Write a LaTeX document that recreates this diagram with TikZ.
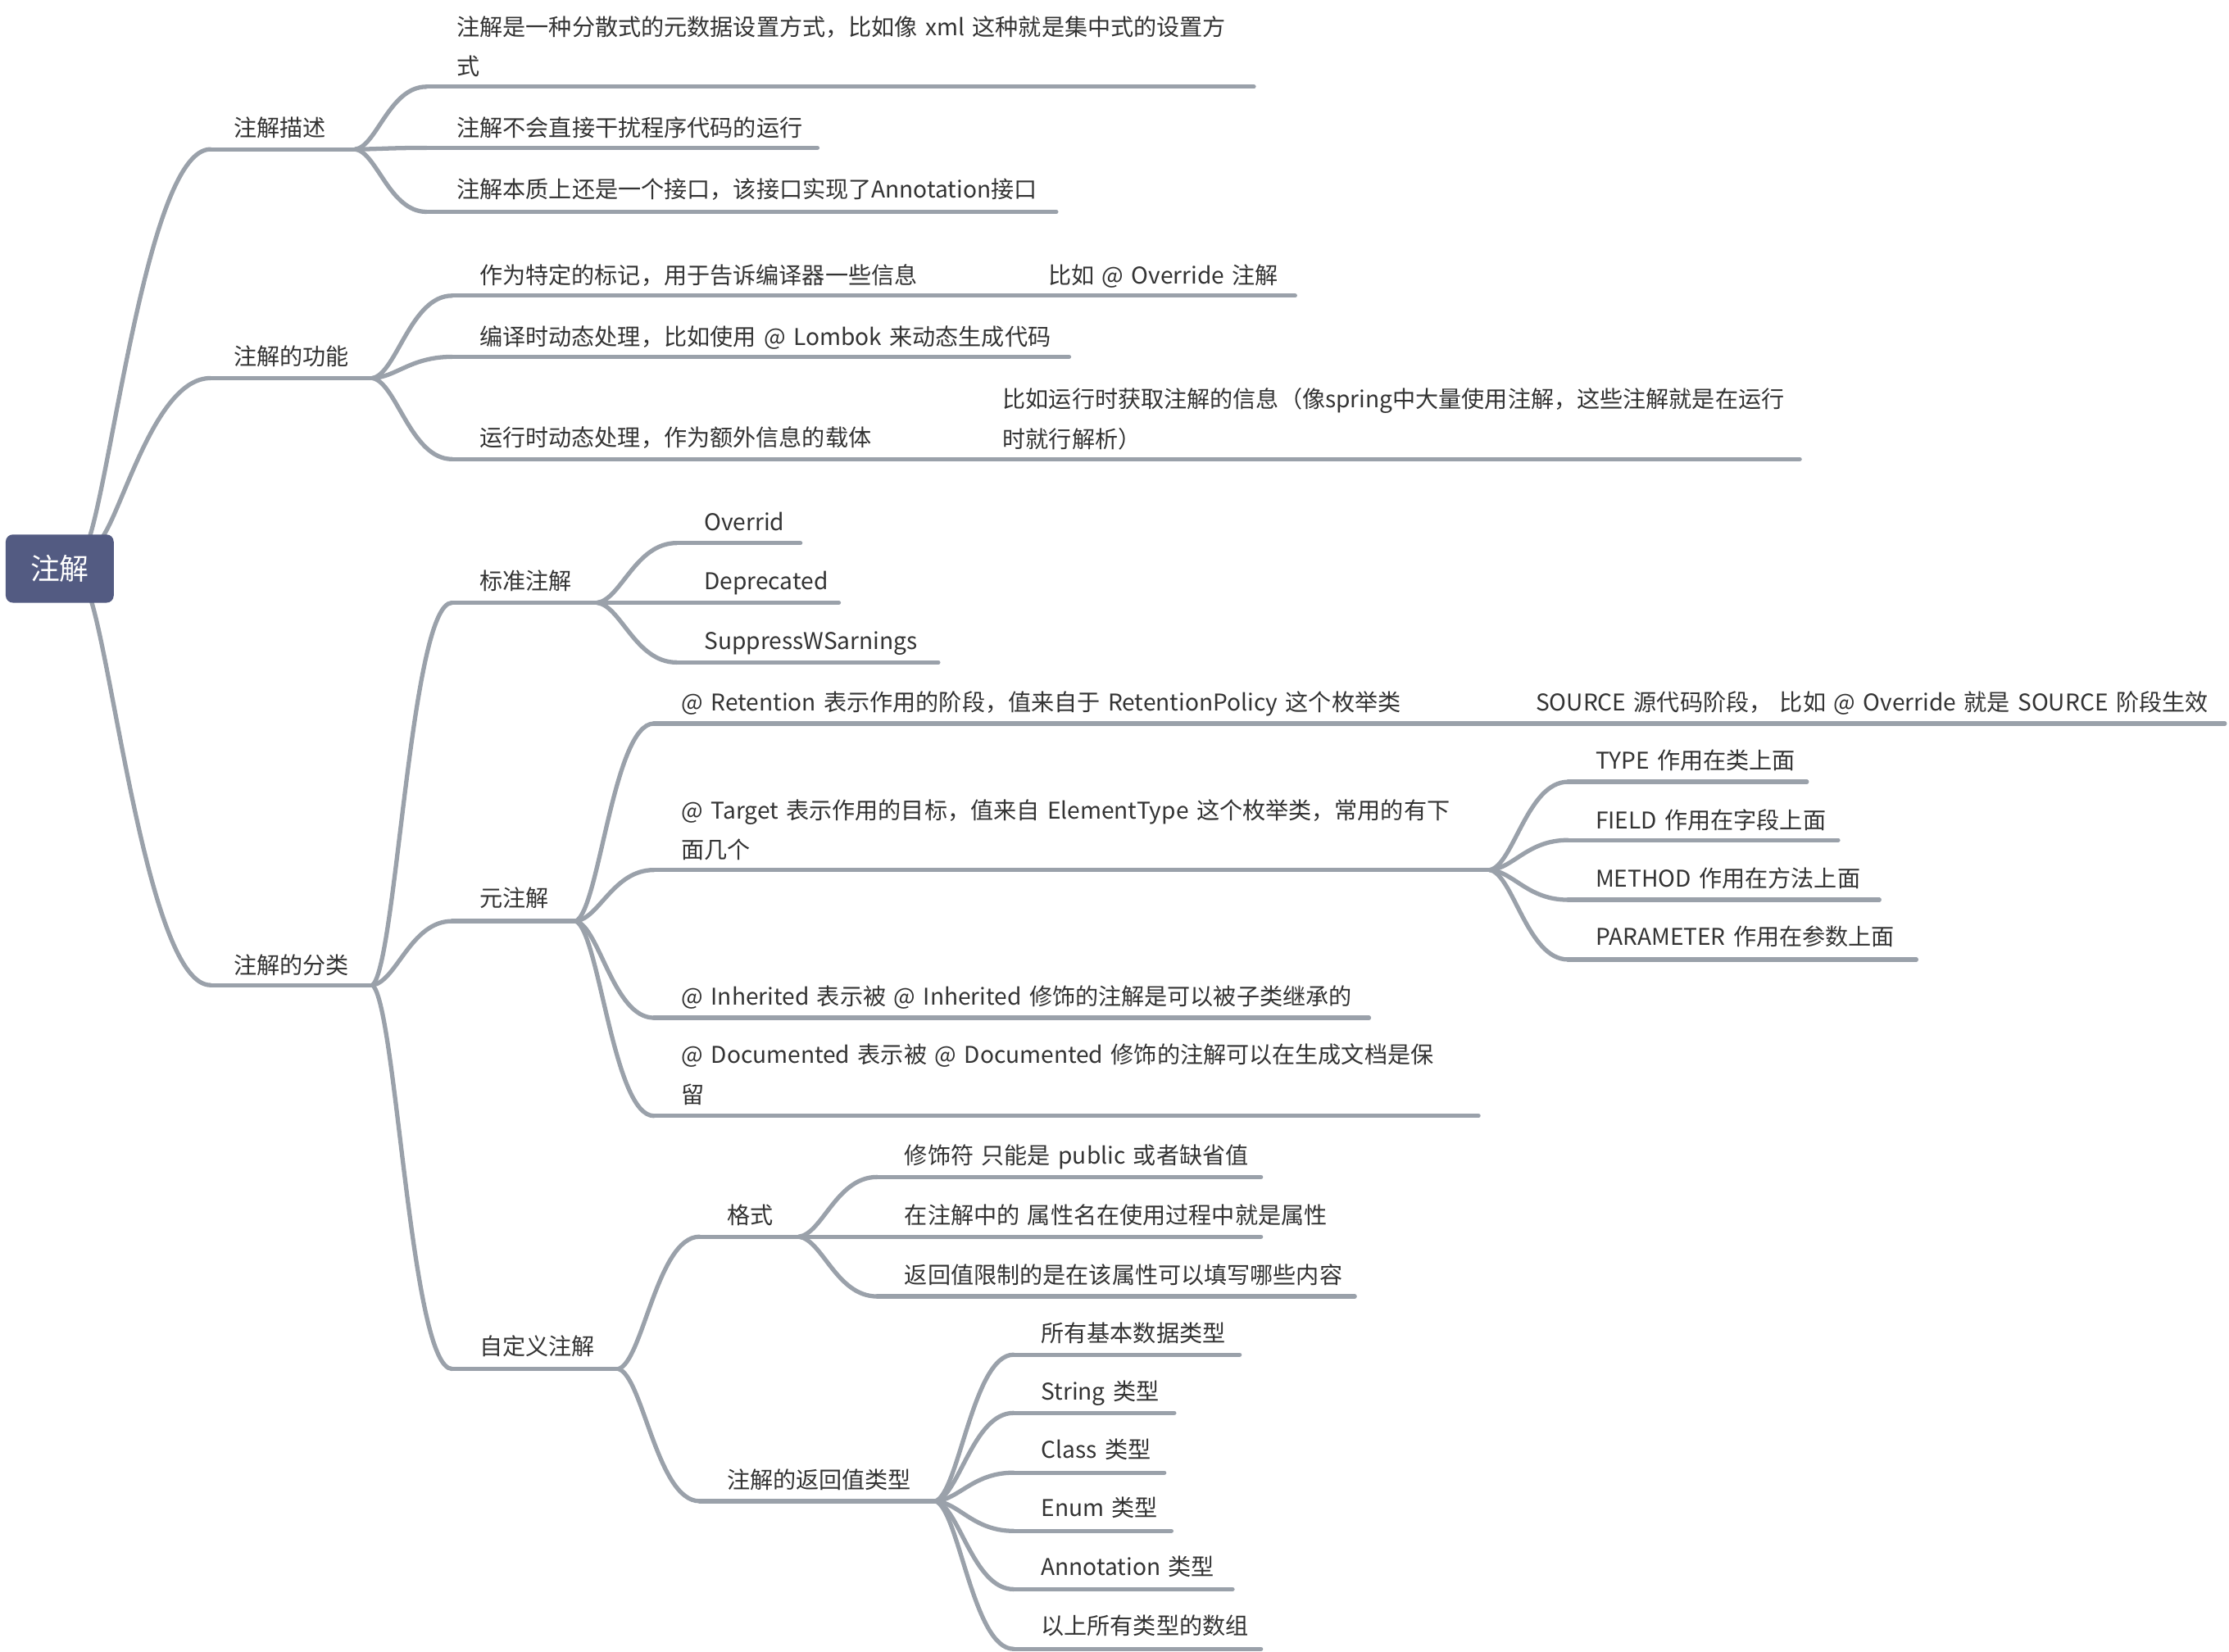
\documentclass[tikz,border=0pt]{standalone}
\usepackage{fontspec}
\setmainfont{Noto Sans CJK SC}[WordSpace=1.5]
\usetikzlibrary{calc}
\definecolor{lnc}{HTML}{9AA1AA}
\definecolor{rootc}{HTML}{535B82}
\definecolor{txc}{HTML}{333333}
\newcommand\twoline[2]{\begin{tabular}[t]{@{}l@{}}#1\\#2\end{tabular}}
% name, text x, text centre y, line y, line start x, line end x, text
\newcommand\topic[7]{%
  \node[tx] (#1) at (#2,#3+7) {#7};
  \coordinate (#1-s) at (#5,#4);
  \coordinate (#1-e) at (#6,#4);
  \draw[ln] (#1-s) -- (#1-e);
}
\newcommand\conn[2]{%
  \draw[ln] let \p1=(#1-e), \p2=(#2-s) in (\p1) .. controls ({\x1+0.3*(\x2-\x1)},{\y1+0.05*(\y2-\y1)}) and ({\x1+0.48*(\x2-\x1)},{\y2}) .. (\p2);
}
\newcommand\rconn[2]{%
  \draw[ln] let \p1=(#1), \p2=(#2-s) in (\p1) .. controls ({\x1+0.2*(\x2-\x1)},{\y1+0.2*(\y2-\y1)}) and ({\x1+0.5*(\x2-\x1)},{\y2}) .. (\p2);
}
\begin{document}
\begin{tikzpicture}[x=0.017347cm,y=-0.017347cm,
  ln/.style={draw=lnc,line width=1.5pt,line cap=round},
  tx/.style={anchor=base west,inner sep=0pt,text=txc,font=\fontsize{8pt}{13.8pt}\selectfont},
  rootbox/.style={fill=rootc,rounded corners=2.5pt,minimum width=1.318cm,minimum height=0.833cm,inner sep=0pt,text=white,font=\fontsize{10.2pt}{12pt}\selectfont}]
\useasboundingbox (0,0) rectangle (1568,1162);
\fill[white] (0,0) rectangle (1568,1162);

% level 1
\topic{d}{164}{89}{105}{148}{250}{注解描述}
\topic{f}{164}{250}{266}{148}{262}{注解的功能}
\topic{c}{164}{678}{693}{148}{262}{注解的分类}

% 注解描述
\topic{d1}{321}{18}{61}{300}{882}{\twoline{注解是一种分散式的元数据设置方式，比如像 xml 这种就是集中式的设置方}{式}}
\topic{d2}{321}{89}{104}{300}{575}{注解不会直接干扰程序代码的运行}
\topic{d3}{321}{132}{149}{300}{743}{注解本质上还是一个接口，该接口实现了Annotation接口}
\conn{d}{d1}\conn{d}{d2}\conn{d}{d3}

% 注解的功能
\topic{f1}{337}{193}{208}{318}{665}{作为特定的标记，用于告诉编译器一些信息}
\topic{f1a}{737}{193}{208}{718}{911}{比如 @ Override 注解}
\topic{f2}{337}{236}{251}{318}{752}{编译时动态处理，比如使用 @ Lombok 来动态生成代码}
\topic{f3}{337}{307}{323}{318}{632}{运行时动态处理，作为额外信息的载体}
\topic{f3a}{705}{280}{323}{686}{1266}{\twoline{比如运行时获取注解的信息（像spring中大量使用注解，这些注解就是在运行}{时就行解析）}}
\conn{f}{f1}\conn{f}{f2}\conn{f}{f3}
\conn{f1}{f1a}\conn{f3}{f3a}

% 注解的分类
\topic{c1}{337}{408}{424}{318}{420}{标准注解}
\topic{c1a}{495}{366}{382}{476}{563}{Overrid}
\topic{c1b}{495}{408}{424}{476}{590}{Deprecated}
\topic{c1c}{495}{450}{466}{476}{660}{SuppressWSarnings}
\conn{c1}{c1a}\conn{c1}{c1b}\conn{c1}{c1c}

\topic{c2}{337}{631}{648}{318}{405}{元注解}
\topic{c2a}{479}{493}{509}{460}{1008}{@ Retention 表示作用的阶段，值来自于 RetentionPolicy 这个枚举类}
\topic{c2a1}{1080}{493}{509}{1061}{1565}{SOURCE 源代码阶段， 比如 @ Override 就是 SOURCE 阶段生效}
\topic{c2b}{479}{569}{612}{460}{1048}{\twoline{@ Target 表示作用的目标，值来自 ElementType 这个枚举类，常用的有下}{面几个}}
\topic{c2b1}{1122}{534}{550}{1103}{1271}{TYPE 作用在类上面}
\topic{c2b2}{1122}{576}{591}{1103}{1293}{FIELD 作用在字段上面}
\topic{c2b3}{1122}{617}{633}{1103}{1322}{METHOD 作用在方法上面}
\topic{c2b4}{1122}{658}{675}{1103}{1348}{PARAMETER 作用在参数上面}
\topic{c2c}{479}{700}{716}{460}{963}{@ Inherited 表示被 @ Inherited 修饰的注解是可以被子类继承的}
\topic{c2d}{479}{741}{785}{460}{1040}{\twoline{@ Documented 表示被 @ Documented 修饰的注解可以在生成文档是保}{留}}
\conn{c2}{c2a}\conn{c2}{c2b}\conn{c2}{c2c}\conn{c2}{c2d}
\conn{c2a}{c2a1}
\conn{c2b}{c2b1}\conn{c2b}{c2b2}\conn{c2b}{c2b3}\conn{c2b}{c2b4}

\topic{c3}{337}{946}{963}{318}{435}{自定义注解}
\topic{c3a}{511}{854}{870}{492}{562}{格式}
\topic{c3a1}{636}{812}{828}{617}{887}{修饰符 只能是 public 或者缺省值}
\topic{c3a2}{636}{854}{870}{617}{887}{在注解中的 属性名在使用过程中就是属性}
\topic{c3a3}{636}{896}{912}{617}{953}{返回值限制的是在该属性可以填写哪些内容}
\topic{c3b}{511}{1040}{1056}{492}{658}{注解的返回值类型}
\topic{c3b1}{732}{937}{953}{713}{872}{所有基本数据类型}
\topic{c3b2}{732}{978}{994}{713}{826}{String 类型}
\topic{c3b3}{732}{1019}{1036}{713}{819}{Class 类型}
\topic{c3b4}{732}{1060}{1077}{713}{824}{Enum 类型}
\topic{c3b5}{732}{1101}{1118}{713}{867}{Annotation 类型}
\topic{c3b6}{732}{1143}{1160}{713}{887}{以上所有类型的数组}
\conn{c3}{c3a}\conn{c3}{c3b}
\conn{c3a}{c3a1}\conn{c3a}{c3a2}\conn{c3a}{c3a3}
\conn{c3b}{c3b1}\conn{c3b}{c3b2}\conn{c3b}{c3b3}\conn{c3b}{c3b4}\conn{c3b}{c3b5}\conn{c3b}{c3b6}

\conn{c}{c1}\conn{c}{c2}\conn{c}{c3}

% root
\coordinate (ra) at (63,378);
\coordinate (rb) at (72,378);
\coordinate (rc) at (64,422);
\rconn{ra}{d}\rconn{rb}{f}\rconn{rc}{c}
\node[rootbox] (root) at (42,400) {注解};
\end{tikzpicture}
\end{document}
